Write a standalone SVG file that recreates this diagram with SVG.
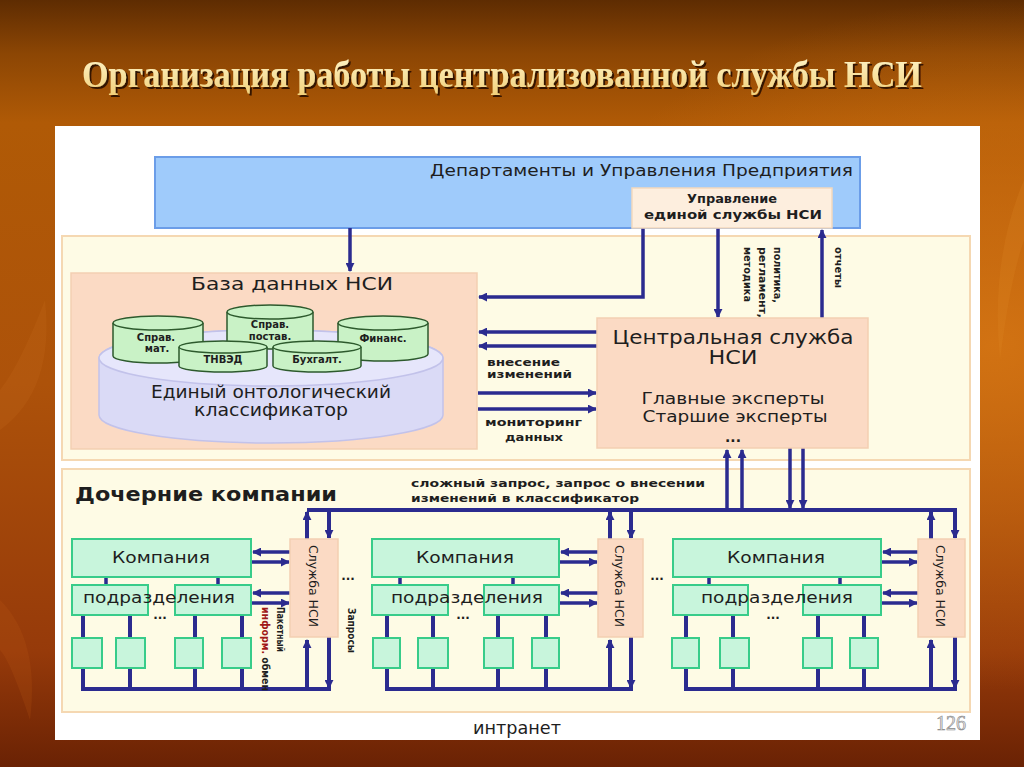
<svg xmlns="http://www.w3.org/2000/svg" width="1024" height="767" viewBox="0 0 1024 767">
<defs>
<linearGradient id="bg" x1="0" y1="0" x2="0" y2="1">
<stop offset="0" stop-color="#5e2c02"/>
<stop offset="0.07" stop-color="#8c4604"/>
<stop offset="0.16" stop-color="#b05a06"/>
<stop offset="0.5" stop-color="#ad520a"/>
<stop offset="0.85" stop-color="#963a0a"/>
<stop offset="1" stop-color="#6a2204"/>
</linearGradient>
<radialGradient id="glow" cx="0.97" cy="0.45" r="0.45">
<stop offset="0" stop-color="#d87814" stop-opacity="0.85"/>
<stop offset="1" stop-color="#d87814" stop-opacity="0"/>
</radialGradient>
<linearGradient id="gold" x1="0" y1="0" x2="0" y2="1">
<stop offset="0" stop-color="#fff6cc"/>
<stop offset="1" stop-color="#f2d07a"/>
</linearGradient>
<filter id="sh" x="-5%" y="-30%" width="110%" height="160%">
<feDropShadow dx="2" dy="2" stdDeviation="0.6" flood-color="#2a1000" flood-opacity="0.9"/>
</filter>
<marker id="ah" viewBox="0 0 10 10" refX="9" refY="5" markerWidth="9" markerHeight="9" markerUnits="userSpaceOnUse" orient="auto">
<path d="M0,0 L10,5 L0,10 z" fill="#2b2b8f"/>
</marker>
</defs>
<style>
.ln{fill:none;stroke:#2b2b8f;stroke-width:3.5}
.lt{fill:none;stroke:#2b2b8f;stroke-width:4}
.ar{marker-end:url(#ah)}
.sec{fill:#fefbe5;stroke:#f5d8b2;stroke-width:2}
.peach{fill:#fbdac4;stroke:#f3cfb2;stroke-width:1.5}
.grn{fill:#c8f5dc;stroke:#38cc8a;stroke-width:2}
.cyl{fill:#c9f2c6;stroke:#2d5a2d;stroke-width:1.5}
.t{font-family:"DejaVu Sans","Liberation Sans",sans-serif;fill:#1e1e1e}
.b{font-weight:bold}
.m{text-anchor:middle}
</style>

<!-- background -->
<rect x="0" y="0" width="1024" height="767" fill="url(#bg)"/>
<rect x="0" y="0" width="1024" height="767" fill="url(#glow)"/>
<path d="M0,430 Q55,390 45,300 Q20,365 0,390 z" fill="#c9701c" opacity="0.2"/>
<path d="M1024,180 Q990,260 1000,360 Q1010,280 1024,240 z" fill="#e08a2a" opacity="0.2"/>
<path d="M0,600 Q40,640 30,720 Q10,660 0,650 z" fill="#c06018" opacity="0.18"/>

<!-- title -->
<text id="title" x="82" y="87" textLength="840" lengthAdjust="spacingAndGlyphs" font-family="'Liberation Serif',serif" font-weight="bold" font-size="37" fill="url(#gold)" filter="url(#sh)">Организация работы централизованной службы НСИ</text>

<!-- white panel -->
<rect x="55" y="126" width="925" height="614" fill="#ffffff"/>

<!-- containers -->
<g id="enterprise">
<rect x="155" y="157" width="705" height="71" fill="#9fcbfb" stroke="#6b9de8" stroke-width="2"/>
<text class="t" x="430" y="176" font-size="15" textLength="423" lengthAdjust="spacingAndGlyphs">Департаменты и Управления Предприятия</text>
</g>
<g id="upper-section">
<rect class="sec" x="62" y="236" width="908" height="224"/>
</g>
<g id="lower-section">
<rect class="sec" x="62" y="469" width="908" height="243"/>
<text class="t b" x="75" y="501" font-size="19" textLength="262" lengthAdjust="spacingAndGlyphs">Дочерние компании</text>
</g>
<g id="db">
<rect class="peach" x="71" y="273" width="406" height="176"/>
<text class="t m" x="292" y="290" font-size="18" textLength="202" lengthAdjust="spacingAndGlyphs">База данных НСИ</text>
</g>

<!-- connectors -->
<g id="connectors">
<path class="ln ar" d="M350,228 V271"/>
<path class="ln ar" d="M643,228 V297 H479"/>
<path class="ln ar" d="M718,228 V317"/>
<path class="ln ar" d="M822,318 V230"/>
<path class="ln ar" d="M597,332 H479"/>
<path class="ln ar" d="M597,346 H479"/>
<path class="ln ar" d="M478,393 H596"/>
<path class="ln ar" d="M478,409 H596"/>
<path class="ln ar" d="M727,510 V450"/>
<path class="ln ar" d="M742,510 V450"/>
<path class="ln ar" d="M790,448 V508"/>
<path class="ln ar" d="M803,448 V508"/>
<path class="lt" d="M307,510 H955"/>
<!-- group 1 -->
<path class="lt ar" d="M307,539 V512"/>
<path class="lt ar" d="M329,510 V538"/>
<path class="lt" d="M83,615 V689 H331"/>
<path class="lt" d="M130,615 V689 M195,615 V689 M242,615 V689"/>
<path class="lt ar" d="M307,689 V640"/>
<path class="lt ar" d="M329,637 V688"/>
<path class="ln" d="M106,577 V585 M218,577 V585"/>
<path class="ln ar" d="M290,552 H253"/>
<path class="ln ar" d="M251,562 H289"/>
<path class="ln ar" d="M290,593 H253"/>
<path class="ln ar" d="M251,603 H289"/>
<!-- group 2 -->
<path class="lt ar" d="M610,539 V512"/>
<path class="lt ar" d="M631,510 V538"/>
<path class="lt" d="M387,615 V689 H633"/>
<path class="lt" d="M433,615 V689 M498,615 V689 M546,615 V689"/>
<path class="lt ar" d="M610,689 V640"/>
<path class="lt ar" d="M631,637 V688"/>
<path class="ln" d="M400,577 V585 M513,577 V585"/>
<path class="ln ar" d="M598,552 H561"/>
<path class="ln ar" d="M559,562 H597"/>
<path class="ln ar" d="M598,593 H561"/>
<path class="ln ar" d="M559,603 H597"/>
<!-- group 3 -->
<path class="lt ar" d="M931,539 V512"/>
<path class="lt ar" d="M955,508 V538"/>
<path class="lt" d="M686,615 V689 H957"/>
<path class="lt" d="M733,615 V689 M818,615 V689 M864,615 V689"/>
<path class="lt ar" d="M931,689 V640"/>
<path class="lt ar" d="M955,637 V688"/>
<path class="ln" d="M709,577 V585 M840,577 V585"/>
<path class="ln ar" d="M918,552 H883"/>
<path class="ln ar" d="M881,562 H917"/>
<path class="ln ar" d="M918,593 H883"/>
<path class="ln ar" d="M881,603 H917"/>
<!-- connector labels -->
<g class="t b" font-size="11">
<text transform="translate(778,247) rotate(90)" dy="0.35em" textLength="56" lengthAdjust="spacingAndGlyphs">политика,</text>
<text transform="translate(763,247) rotate(90)" dy="0.35em" textLength="71" lengthAdjust="spacingAndGlyphs">регламент,</text>
<text transform="translate(748,247) rotate(90)" dy="0.35em" textLength="55" lengthAdjust="spacingAndGlyphs">методика</text>
<text transform="translate(839,247) rotate(90)" dy="0.35em" textLength="41" lengthAdjust="spacingAndGlyphs">отчеты</text>
<text x="487" y="366" textLength="73" lengthAdjust="spacingAndGlyphs">внесение</text>
<text x="487" y="378" textLength="85" lengthAdjust="spacingAndGlyphs">изменений</text>
<text x="485" y="426" textLength="97" lengthAdjust="spacingAndGlyphs">мониторинг</text>
<text x="505" y="441" textLength="58" lengthAdjust="spacingAndGlyphs">данных</text>
<text x="411" y="487" textLength="294" lengthAdjust="spacingAndGlyphs">сложный запрос, запрос о внесении</text>
<text x="411" y="502" textLength="228" lengthAdjust="spacingAndGlyphs">изменений в классификатор</text>
<text transform="translate(280,607) rotate(90)" dy="0.35em" font-size="10" textLength="45" lengthAdjust="spacingAndGlyphs">Пакетный</text>
<text transform="translate(265,607) rotate(90)" dy="0.35em" font-size="10" textLength="84" lengthAdjust="spacingAndGlyphs"><tspan fill="#a01818">информ.</tspan> обмен</text>
<text transform="translate(351,608) rotate(90)" dy="0.35em" font-size="10" textLength="45" lengthAdjust="spacingAndGlyphs">Запросы</text>
</g>
</g>

<!-- nodes -->
<g id="nsi-management">
<rect x="632" y="188" width="200" height="40" fill="#fdeede" stroke="#f3d9bd" stroke-width="1.5"/>
<text class="t b m" x="732" y="203" font-size="12" textLength="90" lengthAdjust="spacingAndGlyphs">Управление</text>
<text class="t b m" x="733" y="219" font-size="12" textLength="178" lengthAdjust="spacingAndGlyphs">единой службы НСИ</text>
</g>

<g id="classifier">
<path d="M99,358 A172,28 0 0 1 443,358 V415 A172,28 0 0 1 99,415 z" fill="#dadaf6" stroke="#c2c2ea" stroke-width="1.5"/>
<ellipse cx="271" cy="358" rx="172" ry="28" fill="#e6e6fb" stroke="#c2c2ea" stroke-width="1.5"/>
<text class="t m" x="271" y="398" font-size="18" textLength="240" lengthAdjust="spacingAndGlyphs">Единый онтологический</text>
<text class="t m" x="271" y="416" font-size="18" textLength="154" lengthAdjust="spacingAndGlyphs">классификатор</text>
</g>

<g id="db-spravmat">
<path class="cyl" d="M113,323 V356 A45,7 0 0 0 203,356 V323"/>
<ellipse class="cyl" cx="158" cy="323" rx="45" ry="7"/>
<text class="t b m" x="156" y="341" font-size="10">Справ.</text>
<text class="t b m" x="157" y="352" font-size="10">мат.</text>
</g>
<g id="db-spravpostav">
<path class="cyl" d="M227,312 V342 A43,7 0 0 0 313,342 V312"/>
<ellipse class="cyl" cx="270" cy="312" rx="43" ry="7"/>
<text class="t b m" x="270" y="328" font-size="10">Справ.</text>
<text class="t b m" x="270" y="340" font-size="10">постав.</text>
</g>
<g id="db-finans">
<path class="cyl" d="M338,323 V354 A45,7 0 0 0 428,354 V323"/>
<ellipse class="cyl" cx="383" cy="323" rx="45" ry="7"/>
<text class="t b m" x="383" y="342" font-size="10">Финанс.</text>
</g>
<g id="db-tnved">
<path class="cyl" d="M179,347 V366 A44,6 0 0 0 267,366 V347"/>
<ellipse class="cyl" cx="223" cy="347" rx="44" ry="6"/>
<text class="t b m" x="223" y="363" font-size="10">ТНВЭД</text>
</g>
<g id="db-buh">
<path class="cyl" d="M273,347 V366 A44,6 0 0 0 361,366 V347"/>
<ellipse class="cyl" cx="317" cy="347" rx="44" ry="6"/>
<text class="t b m" x="317" y="363" font-size="10">Бухгалт.</text>
</g>

<g id="central">
<rect class="peach" x="597" y="318" width="271" height="130"/>
<text class="t m" x="733" y="344" font-size="20" textLength="241" lengthAdjust="spacingAndGlyphs">Центральная служба</text>
<text class="t m" x="733" y="364" font-size="20" textLength="49" lengthAdjust="spacingAndGlyphs">НСИ</text>
<text class="t m" x="733" y="404" font-size="16" textLength="183" lengthAdjust="spacingAndGlyphs">Главные эксперты</text>
<text class="t m" x="735" y="422" font-size="16" textLength="185" lengthAdjust="spacingAndGlyphs">Старшие эксперты</text>
<text class="t b m" x="733" y="442" font-size="14">...</text>
</g>

<!-- group 1 -->
<g id="company1">
<rect class="grn" x="72" y="539" width="179" height="38"/>
<text class="t m" x="161" y="563" font-size="15" textLength="98" lengthAdjust="spacingAndGlyphs">Компания</text>
</g>
<g id="subdiv1">
<rect class="grn" x="72" y="585" width="76" height="30"/>
<rect class="grn" x="175" y="585" width="76" height="30"/>
<text class="t m" x="159" y="603" font-size="16" textLength="152" lengthAdjust="spacingAndGlyphs">подразделения</text>
<text class="t b m" x="160" y="619" font-size="12">...</text>
</g>
<g id="units1">
<rect class="grn" x="72" y="638" width="30" height="30"/>
<rect class="grn" x="116" y="638" width="29" height="30"/>
<rect class="grn" x="175" y="638" width="28" height="30"/>
<rect class="grn" x="222" y="638" width="29" height="30"/>
</g>
<g id="service1">
<rect class="peach" x="290" y="539" width="48" height="98"/>
<text class="t" transform="translate(314,586) rotate(90)" text-anchor="middle" dy="0.35em" font-size="13" textLength="82" lengthAdjust="spacingAndGlyphs">Служба НСИ</text>
</g>
<text class="t b m" x="348" y="580" font-size="12">...</text>

<!-- group 2 -->
<g id="company2">
<rect class="grn" x="372" y="539" width="187" height="38"/>
<text class="t m" x="465" y="563" font-size="15" textLength="98" lengthAdjust="spacingAndGlyphs">Компания</text>
</g>
<g id="subdiv2">
<rect class="grn" x="372" y="585" width="76" height="30"/>
<rect class="grn" x="484" y="585" width="75" height="30"/>
<text class="t m" x="467" y="603" font-size="16" textLength="152" lengthAdjust="spacingAndGlyphs">подразделения</text>
<text class="t b m" x="463" y="619" font-size="12">...</text>
</g>
<g id="units2">
<rect class="grn" x="373" y="638" width="27" height="30"/>
<rect class="grn" x="418" y="638" width="30" height="30"/>
<rect class="grn" x="484" y="638" width="29" height="30"/>
<rect class="grn" x="532" y="638" width="27" height="30"/>
</g>
<g id="service2">
<rect class="peach" x="598" y="539" width="45" height="98"/>
<text class="t" transform="translate(620,586) rotate(90)" text-anchor="middle" dy="0.35em" font-size="13" textLength="82" lengthAdjust="spacingAndGlyphs">Служба НСИ</text>
</g>
<text class="t b m" x="657" y="580" font-size="12">...</text>

<!-- group 3 -->
<g id="company3">
<rect class="grn" x="673" y="539" width="208" height="38"/>
<text class="t m" x="776" y="563" font-size="15" textLength="98" lengthAdjust="spacingAndGlyphs">Компания</text>
</g>
<g id="subdiv3">
<rect class="grn" x="673" y="585" width="75" height="30"/>
<rect class="grn" x="803" y="585" width="78" height="30"/>
<text class="t m" x="777" y="603" font-size="16" textLength="152" lengthAdjust="spacingAndGlyphs">подразделения</text>
<text class="t b m" x="773" y="619" font-size="12">...</text>
</g>
<g id="units3">
<rect class="grn" x="672" y="638" width="27" height="30"/>
<rect class="grn" x="720" y="638" width="29" height="30"/>
<rect class="grn" x="803" y="638" width="29" height="30"/>
<rect class="grn" x="850" y="638" width="28" height="30"/>
</g>
<g id="service3">
<rect class="peach" x="918" y="539" width="47" height="98"/>
<text class="t" transform="translate(941,586) rotate(90)" text-anchor="middle" dy="0.35em" font-size="13" textLength="82" lengthAdjust="spacingAndGlyphs">Служба НСИ</text>
</g>

<g id="intranet">
<text class="t m" x="517" y="734" font-size="17" textLength="88" lengthAdjust="spacingAndGlyphs">интранет</text>
</g>
<text x="936" y="730" font-family="'Liberation Serif',serif" font-size="20" fill="#e4e4e4" stroke="#8a8a8a" stroke-width="0.6">126</text>
</svg>
